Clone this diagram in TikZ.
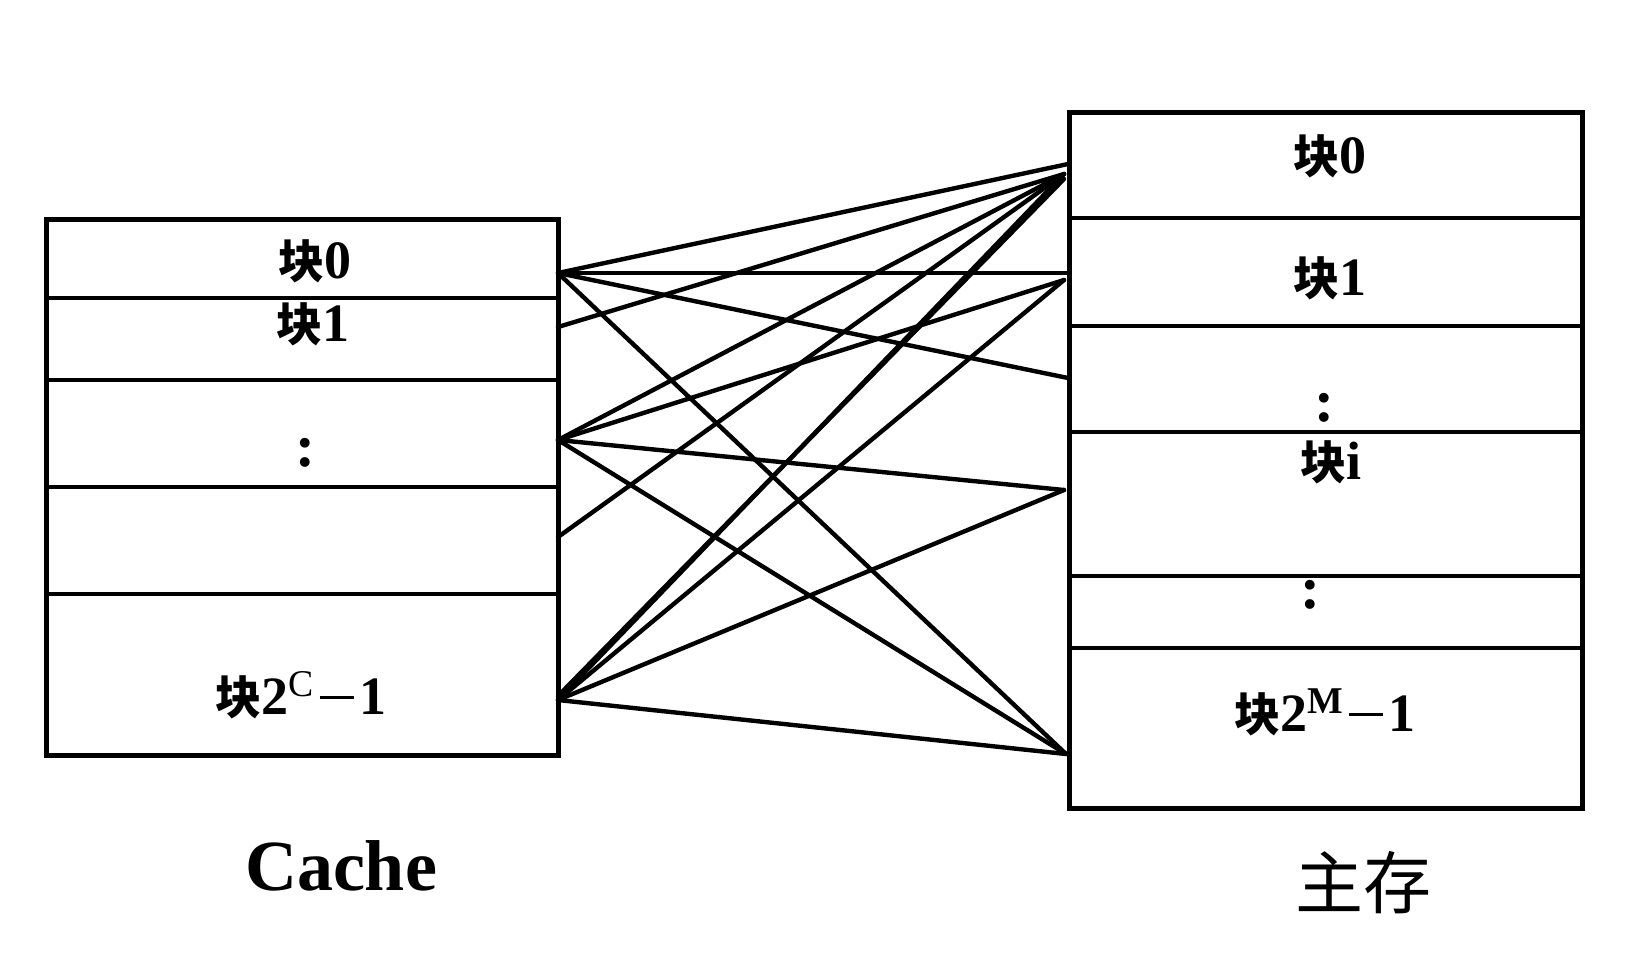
\documentclass[tikz,border=0pt]{standalone}
\usepackage{fontspec}
\setmainfont{Liberation Serif}
\newfontfamily\cjk{Noto Sans CJK SC}
\newcommand{\kuai}{{\fontsize{23pt}{25pt}\selectfont\cjk\bfseries 块}}
\newcommand{\mdash}{\hspace{2.5pt}\rule[7.5pt]{17pt}{1.8pt}\hspace{3pt}}
\begin{document}
\begin{tikzpicture}[x=0.5pt,y=-0.5pt,
  boxline/.style={line width=2.5pt},
  divline/.style={line width=2pt},
  conn/.style={line width=2.2pt, line cap=round},
  lbl/.style={inner sep=0pt, font=\fontsize{27pt}{29pt}\selectfont\bfseries},
  dots/.style={inner sep=0pt, font=\fontsize{30pt}{32pt}\selectfont\bfseries},
  title/.style={inner sep=0pt}]
\useasboundingbox (0,0) rectangle (1638,970);
% left box (Cache)
\draw[boxline] (46,219) rectangle (558,755);
\foreach \y in {298,380,487,594} \draw[divline] (46,\y) -- (558,\y);
% right box (main memory)
\draw[boxline] (1069,112) rectangle (1582,808);
\foreach \y in {218,326,432,576,648} \draw[divline] (1069,\y) -- (1582,\y);
% labels left
\node[lbl] (c0) at (315,261) {\kuai0};
\node[lbl] (c1) at (313,324) {\kuai1};
\node[dots] (cd) at (305,453) {:};
\node[lbl] (cn) at (301,695) {\kuai2\textsuperscript{\mdseries C}\mdash1};
% labels right
\node[lbl] (m0) at (1330,156) {\kuai0};
\node[lbl] (m1) at (1330,278) {\kuai1};
\node[dots] (md1) at (1324,408) {:};
\node[lbl] (mi) at (1331,462) {\kuai i};
\node[dots] (md2) at (1310,595) {:};
\node[lbl] (mn) at (1325,712) {\kuai2\textsuperscript{M}\mdash1};
% titles
\node[title, font=\fontsize{36pt}{40pt}\selectfont\bfseries] (tc) at (341,866) {Cache};
\node[title, font=\fontsize{34pt}{38pt}\selectfont\cjk] (tm) at (1363,883) {主存};
% connector end points
\coordinate (A) at (558,273);
\coordinate (B) at (558,327);
\coordinate (C) at (558,440);
\coordinate (D) at (558,537);
\coordinate (E) at (558,700);
\coordinate (E2) at (558,696);
\coordinate (P1) at (1068,164);
\coordinate (P2) at (1064,174);
\coordinate (P3) at (1064,179);
\coordinate (Q1) at (1068,273);
\coordinate (Q2) at (1064,280);
\coordinate (R) at (1068,378);
\coordinate (S) at (1064,490);
\coordinate (T) at (1066,754);
% connectors
\draw[conn] (A) -- (P1);
\draw[conn] (A) -- (Q1);
\draw[conn] (A) -- (R);
\draw[conn] (A) -- (T);
\draw[conn] (B) -- (P2);
\draw[conn] (C) -- (P2);
\draw[conn] (C) -- (Q2);
\draw[conn] (C) -- (S);
\draw[conn] (C) -- (T);
\draw[conn] (D) -- (P2);
\draw[conn] (E) -- (P2);
\draw[conn] (E2) -- (P3);
\draw[conn] (E) -- (Q2);
\draw[conn] (E) -- (S);
\draw[conn] (E) -- (T);
\end{tikzpicture}
\end{document}
